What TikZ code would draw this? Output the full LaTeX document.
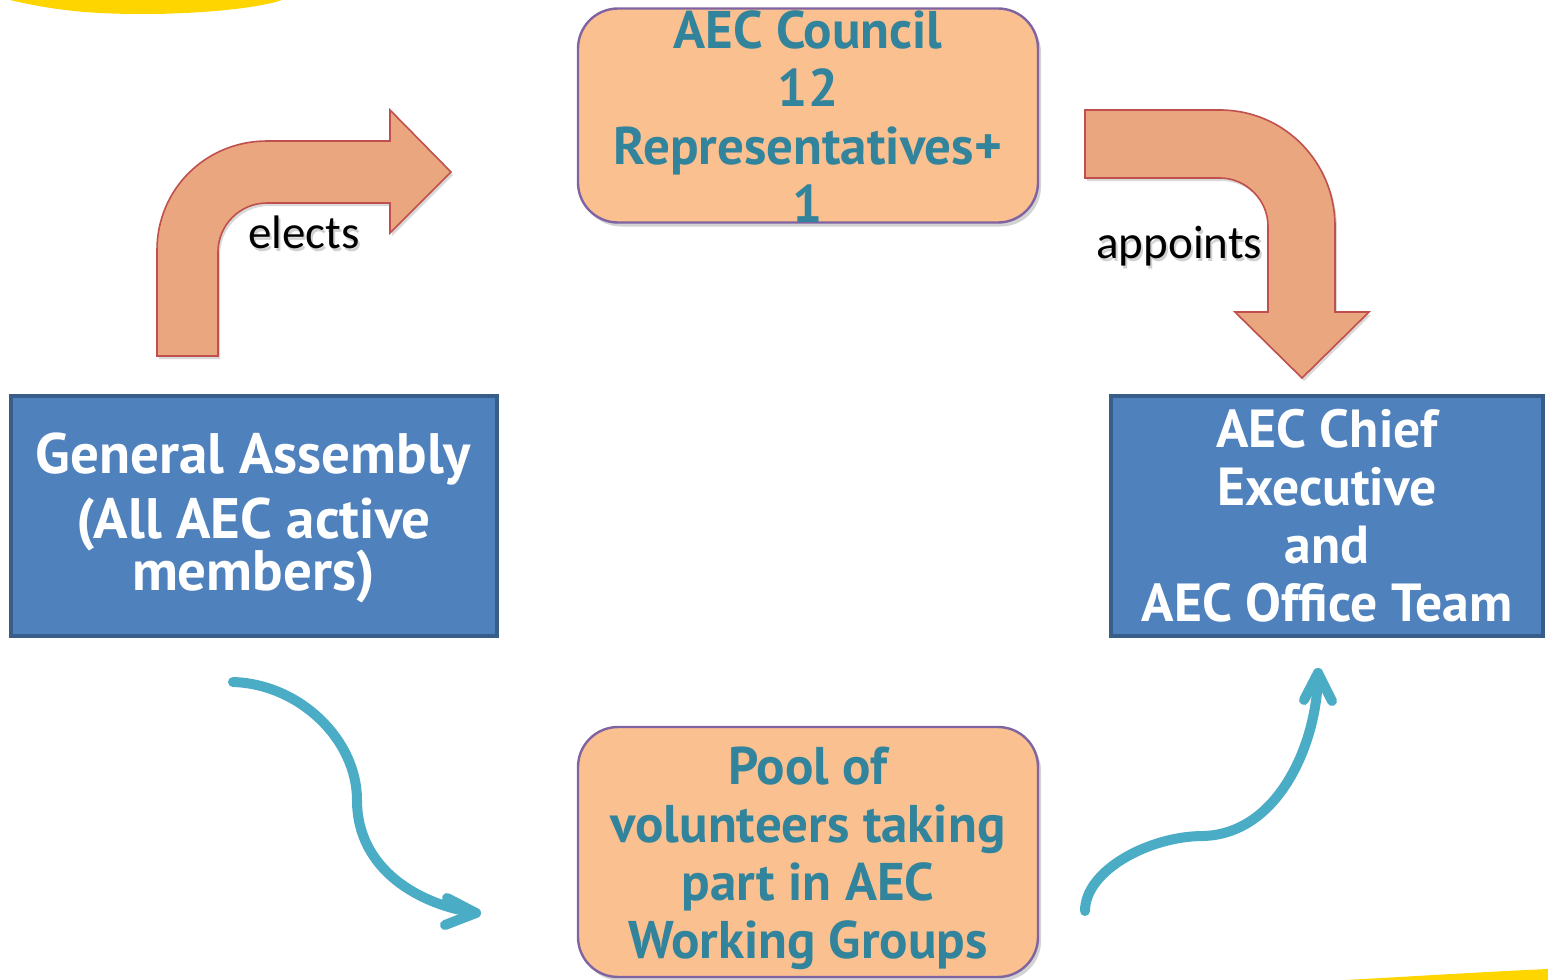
\documentclass[tikz,border=0pt]{standalone}
\usepackage{fontspec}
\setmainfont{PT Sans}
\newfontfamily\lblfont{Carlito}
\usetikzlibrary{shadows}
\definecolor{peach}{HTML}{FAC090}
\definecolor{purpleb}{HTML}{8064A2}
\definecolor{tealtxt}{HTML}{31849B}
\definecolor{blueb}{HTML}{4F81BD}
\definecolor{bluebd}{HTML}{385D8A}
\definecolor{salmon}{HTML}{E9A67F}
\definecolor{redb}{HTML}{C0504D}
\definecolor{cyanar}{HTML}{4BACC6}
\definecolor{yell}{HTML}{FFD500}
\tikzset{
  peachbox/.style={draw=purpleb, line width=1.2pt, fill=peach, rounded corners=20pt,
    minimum width=230pt, minimum height=107pt, inner sep=0pt,
    drop shadow={opacity=0.35, shadow xshift=1.5pt, shadow yshift=-2pt}},
  peachtext/.style={align=center, text=tealtxt, inner sep=0pt,
    font=\bfseries\fontsize{26.5}{29}\selectfont},
  bluebox/.style={draw=bluebd, line width=2pt, fill=blueb,
    minimum width=243pt, minimum height=120pt, inner sep=0pt},
  bluetext/.style={align=center, text=white, inner sep=0pt,
    font=\bfseries\fontsize{26.8}{29}\selectfont},
  blockarrow/.style={fill=salmon, draw=redb, line width=0.8pt,
    drop shadow={opacity=0.3, shadow xshift=1pt, shadow yshift=-1.5pt}},
  curvy/.style={draw=cyanar, line width=5pt, line cap=round, line join=round},
  lbl/.style={font=\lblfont\fontsize{23.5}{27}\selectfont, text=black, inner sep=0pt},
  lblshadow/.style={lbl, text=black, opacity=0.18}
}
\begin{document}
\begin{tikzpicture}[x=0.5pt,y=-0.5pt]
\useasboundingbox (0,0) rectangle (1548,980);
% yellow decorations
\fill[yell] (10,0) .. controls (60,12) and (100,14) .. (145,14) .. controls (200,14) and (260,8) .. (282,0) -- cycle;
\fill[yell] (1345,980) .. controls (1420,976) and (1480,972) .. (1548,969) -- (1548,980) -- cycle;

% boxes
\node[peachbox] (council) at (808,115.5) {};
\node[peachtext] (counciltxt) at (808,117) {AEC Council\\12\\Representatives+\\1};
\node[peachbox, minimum height=125pt] (pool) at (808,852) {};
\node[peachtext] (pooltxt) at (808,858) {Pool of\\volunteers taking\\part in AEC\\Working Groups};
\node[bluebox] (ga) at (253.5,516) {};
\node[bluetext, font=\bfseries\fontsize{28.5}{29}\selectfont] (gatxt) at (253.5,518) {General Assembly\\[3.5pt](All AEC active\\[-3pt]members)};
\node[bluebox, minimum width=216pt] (chief) at (1327,516) {};
\node[bluetext] (chieftxt) at (1327,516) {AEC Chief\\Executive\\and\\AEC Office Team};

% elects block arrow
\path[blockarrow] (157,356) -- (157,250)
  .. controls (157,189) and (206,141) .. (267,141)
  -- (390,141) -- (390,110) -- (451,172) -- (390,233) -- (390,203)
  -- (267,203) .. controls (240,203) and (218,225) .. (218,252)
  -- (218,356) -- cycle;
\node[lblshadow, anchor=base west] (electsshadow) at (250,251) {elects};
\node[lbl, anchor=base west] (elects) at (248,248) {elects};

% appoints block arrow
\path[blockarrow] (1085,110) -- (1220,110)
  .. controls (1284,110) and (1335,162) .. (1335,226)
  -- (1335,312) -- (1369,312) -- (1302,378) -- (1235,312) -- (1268,312)
  -- (1268,226) .. controls (1268,200) and (1246,178) .. (1220,178)
  -- (1085,178) -- cycle;
\node[lblshadow, anchor=base west] (appointsshadow) at (1098,261) {appoints};
\node[lbl, anchor=base west] (appoints) at (1096,258) {appoints};

% curvy arrows
\coordinate (c1s) at (233,682);
\coordinate (c1m) at (357,800);
\coordinate (c1e) at (476,913);
\draw[curvy] (c1s) .. controls (300,684) and (357,740) .. (c1m)
  .. controls (357,870) and (420,905) .. (c1e);
\draw[curvy] (447,898) -- (c1e) -- (445,925);

\coordinate (c2s) at (1085,911);
\coordinate (c2m) at (1203,836);
\coordinate (c2e) at (1318,673);
\draw[curvy] (c2s) .. controls (1085,870) and (1150,836) .. (c2m)
  .. controls (1280,834) and (1318,740) .. (c2e);
\draw[curvy] (1304,700) -- (c2e) -- (1332,701);
\end{tikzpicture}
\end{document}
